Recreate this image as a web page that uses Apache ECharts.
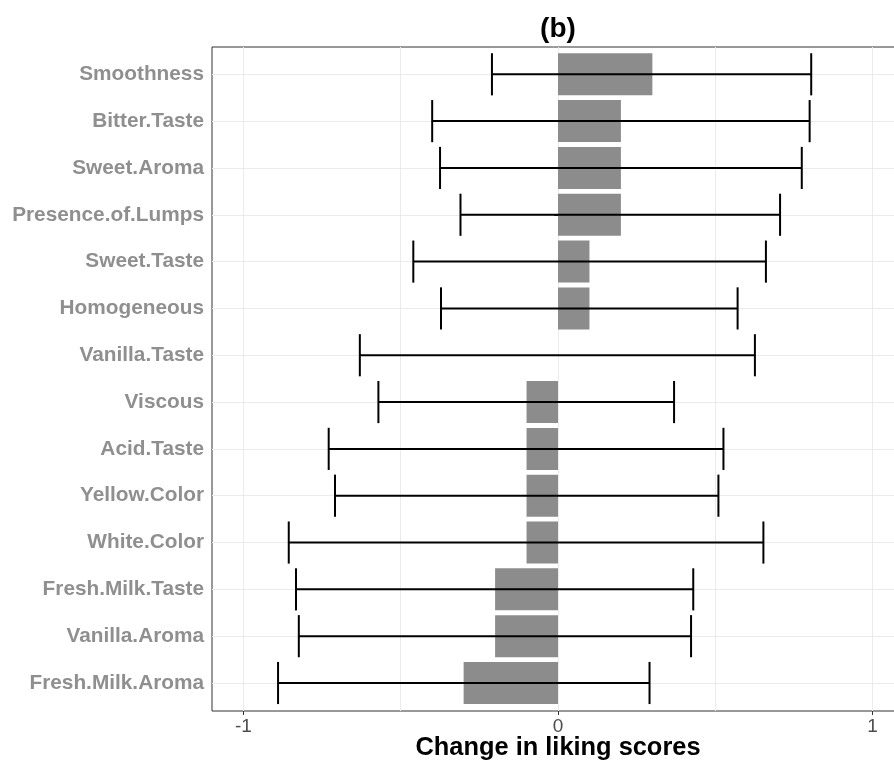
<!DOCTYPE html>
<html lang="en">
<head>
    <meta charset="UTF-8">
    <title>Change in liking scores (b)</title>
    <script src="https://cdn.jsdelivr.net/npm/echarts@6.0.0/dist/echarts.min.js"></script>
    <style>
        html, body { margin: 0; padding: 0; background: #fff; }
    </style>
</head>
<body>
    <div id="main" style="width: 894px; height: 762px;"></div>

    <script>
        // attributes, top to bottom
        var attributes = ['Smoothness', 'Bitter.Taste', 'Sweet.Aroma', 'Presence.of.Lumps',
            'Sweet.Taste', 'Homogeneous', 'Vanilla.Taste', 'Viscous', 'Acid.Taste',
            'Yellow.Color', 'White.Color', 'Fresh.Milk.Taste', 'Vanilla.Aroma', 'Fresh.Milk.Aroma'];

        // mean change in liking
        var change = [0.3, 0.2, 0.2, 0.2, 0.1, 0.1, 0, -0.1, -0.1, -0.1, -0.1, -0.2, -0.2, -0.3];

        // interval ends
        var lower = [-0.21, -0.40, -0.375, -0.31, -0.46, -0.372, -0.63, -0.571, -0.729, -0.709, -0.856, -0.833, -0.824, -0.89];
        var upper = [0.805, 0.80, 0.775, 0.706, 0.661, 0.571, 0.626, 0.369, 0.526, 0.51, 0.653, 0.43, 0.423, 0.291];

        var xTicks = [-1, 0, 1];
        var xGrid = [-1, -0.5, 0, 0.5, 1];

        var chart = echarts.init(document.getElementById('main'));

        var errData = attributes.map(function (a, i) { return [i, lower[i], upper[i]]; });

        var option = {
            animation: false,
            textStyle: { fontFamily: 'Liberation Sans, Arial, sans-serif' },
            title: {
                text: '(b)',
                left: 553,
                textAlign: 'center',
                top: 10,
                textStyle: { color: '#000', fontSize: 28, fontWeight: 'bold' }
            },
            grid: [
                // panel
                { left: 212, top: 47, width: 692, height: 664, show: true, outerBoundsMode: 'none',
                  borderColor: '#333', borderWidth: 1, backgroundColor: 'transparent' },
                // rows
                { left: 212, top: 74.3, width: 692, height: 608.7, outerBoundsMode: 'none' }
            ],
            xAxis: [
                {
                    type: 'value', gridIndex: 0, min: -1.1, max: 1.1, position: 'bottom',
                    axisLine: { show: false },
                    axisTick: { show: true, customValues: xTicks, length: 4, lineStyle: { color: '#333' } },
                    axisLabel: { customValues: xTicks, color: '#4d4d4d', fontSize: 19, margin: 6 },
                    splitLine: { show: false },
                    name: 'Change in liking scores',
                    nameLocation: 'middle',
                    nameMoveOverlap: false,
                    nameGap: 24,
                    nameTextStyle: { color: '#000', fontSize: 25.4, fontWeight: 'bold' }
                },
                {
                    type: 'value', gridIndex: 0, min: -1.1, max: 1.1, position: 'top',
                    axisLine: { show: false },
                    axisTick: { show: false, customValues: xGrid },
                    axisLabel: { show: false, customValues: xGrid },
                    splitLine: { show: true, lineStyle: { color: '#ebebeb', width: 1 } }
                },
                {
                    type: 'value', gridIndex: 1, min: -1.1, max: 1.1, show: false
                }
            ],
            yAxis: [
                { type: 'value', gridIndex: 0, min: 0, max: 1, show: false },
                {
                    type: 'category', gridIndex: 1, data: attributes, inverse: true, boundaryGap: false,
                    axisLine: { show: false },
                    axisTick: { show: true, length: 4, lineStyle: { color: '#333' } },
                    axisLabel: { color: '#8f8f8f', fontSize: 20.8, fontWeight: 'bold', margin: 8 },
                    splitLine: { show: true, lineStyle: { color: '#ebebeb', width: 1 } }
                }
            ],
            series: [
                {
                    name: 'Change',
                    type: 'bar',
                    xAxisIndex: 2,
                    yAxisIndex: 1,
                    data: change,
                    barWidth: 42,
                    clip: false,
                    itemStyle: { color: '#8c8c8c' },
                    z: 2
                },
                {
                    name: 'Interval',
                    type: 'custom',
                    xAxisIndex: 2,
                    yAxisIndex: 1,
                    data: errData,
                    encode: { y: 0, x: [1, 2] },
                    clip: false,
                    z: 3,
                    renderItem: function (params, api) {
                        var idx = api.value(0);
                        var p0 = api.coord([api.value(1), idx]);
                        var p1 = api.coord([api.value(2), idx]);
                        var h = api.size([0, 1])[1] * 0.9 / 2;
                        var style = { stroke: '#000', lineWidth: 2 };
                        return {
                            type: 'group',
                            children: [
                                { type: 'line', shape: { x1: p0[0], y1: p0[1], x2: p1[0], y2: p1[1] }, style: style },
                                { type: 'line', shape: { x1: p0[0], y1: p0[1] - h, x2: p0[0], y2: p0[1] + h }, style: style },
                                { type: 'line', shape: { x1: p1[0], y1: p1[1] - h, x2: p1[0], y2: p1[1] + h }, style: style }
                            ]
                        };
                    }
                }
            ]
        };

        chart.setOption(option);
    </script>
</body>
</html>
